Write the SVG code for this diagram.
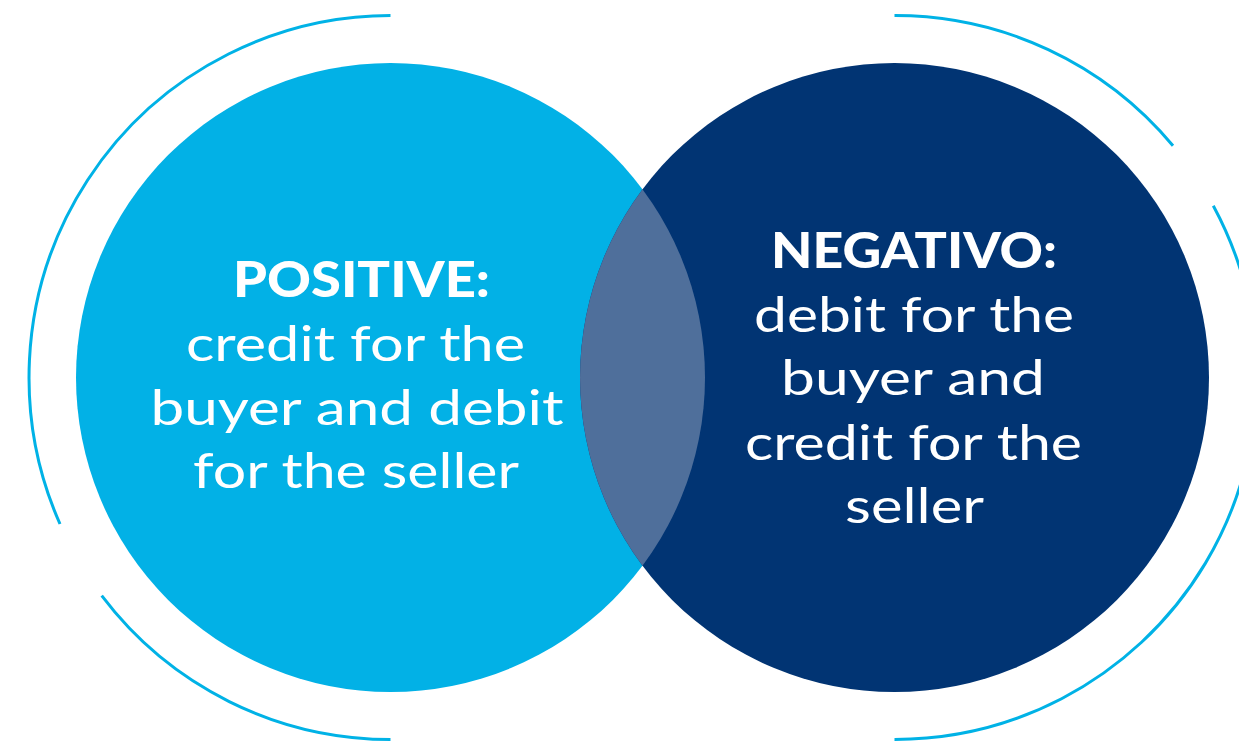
<svg xmlns="http://www.w3.org/2000/svg" width="1239" height="741" viewBox="0 0 1239 741">
<style>
.ring{fill:none;stroke:#00b2e6;stroke-width:3}
.h{font-family:Lato,"Liberation Sans",sans-serif;font-weight:900;font-size:50px;fill:#fff;text-anchor:middle}
.t{font-family:Lato,"Liberation Sans",sans-serif;font-weight:400;font-size:48px;fill:#fff;text-anchor:middle}
</style>
<defs>
<clipPath id="clipL"><circle cx="390.5" cy="377.5" r="314.5"/></clipPath>
</defs>
<rect width="1239" height="741" fill="#fff"/>
<g id="rings">
<path class="ring" d="M390.5 15.5 A362 362 0 0 0 60 524"/>
<path class="ring" d="M101.7 595.7 A362 362 0 0 0 390.5 739.5"/>
<path class="ring" d="M894.5 15.5 A362 362 0 0 1 1173 145.7"/>
<path class="ring" d="M1213.3 205.7 A362 362 0 0 1 894.5 739.5"/>
</g>
<g id="positive">
<circle cx="390.5" cy="377.5" r="314.5" fill="#02b1e6"/>
<text class="h" x="361.5" y="297" textLength="257" lengthAdjust="spacingAndGlyphs">POSITIVE:</text>
<text class="t" x="355.5" y="361" textLength="339" lengthAdjust="spacingAndGlyphs">credit for the</text>
<text class="t" x="357" y="425" textLength="413" lengthAdjust="spacingAndGlyphs">buyer and debit</text>
<text class="t" x="356" y="488" textLength="326" lengthAdjust="spacingAndGlyphs">for the seller</text>
</g>
<g id="negative">
<circle cx="894.5" cy="377.5" r="314.5" fill="#013473"/>
<text class="h" x="914" y="268" textLength="286" lengthAdjust="spacingAndGlyphs">NEGATIVO:</text>
<text class="t" x="914" y="332" textLength="320" lengthAdjust="spacingAndGlyphs">debit for the</text>
<text class="t" x="913" y="395" textLength="264" lengthAdjust="spacingAndGlyphs">buyer and</text>
<text class="t" x="913.5" y="460" textLength="337" lengthAdjust="spacingAndGlyphs">credit for the</text>
<text class="t" x="914.5" y="523" textLength="139" lengthAdjust="spacingAndGlyphs">seller</text>
</g>
<g id="overlap">
<circle cx="894.5" cy="377.5" r="314.5" fill="#4f6f9b" clip-path="url(#clipL)"/>
</g>
</svg>
